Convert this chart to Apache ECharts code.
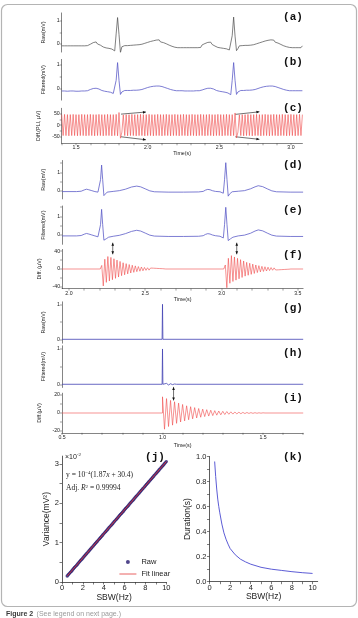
<!DOCTYPE html>
<html>
<head>
<meta charset="utf-8">
<script src="https://cdn.jsdelivr.net/npm/echarts@6/dist/echarts.min.js"></script>
<style>
html, body { margin: 0; padding: 0; background: #fff; }
#fig { width: 358px; height: 618px; }
</style>
</head>
<body>
<div id="fig"></div>
<script>
// Sampled traces: one value every DT seconds from the stated start time.
const DT = 0.01;

// (a) raw ECG with mains ripple, (b) filtered, (c) PLI difference — 1.40 s .. 3.08 s
const acT0 = 1.40;
const rawA = [
  -0.08,-0.16,-0.08,-0.16,-0.08,-0.16,-0.08,-0.16,-0.08,-0.16,-0.08,-0.16,-0.08,-0.16,-0.08,-0.16,-0.08,-0.16,
  -0.07,-0.13,-0.01,-0.05,0.06,0.00,0.09,0.00,0.06,-0.05,-0.01,-0.13,-0.07,
  -0.17,-0.10,-0.19,-0.12,-0.22,-0.17,
  -0.30,0.44,1.15,0.42,-0.37,-0.12,
  -0.16,-0.07,-0.15,-0.07,-0.14,-0.06,-0.14,-0.05,-0.13,-0.04,-0.12,-0.03,-0.10,
  -0.01,-0.07,0.03,-0.03,0.07,0.01,0.11,0.05,0.14,0.08,0.17,0.10,0.18,0.09,0.16,0.06,0.12,0.01,0.06,-0.05,0.00,-0.10,-0.04,-0.14,-0.07,
  -0.16,-0.08,-0.16,-0.08,-0.16,-0.08,-0.16,-0.08,-0.16,-0.08,-0.16,-0.08,-0.16,-0.08,-0.16,-0.08,
  -0.15,-0.04,-0.09,0.02,-0.03,0.07,0.01,0.08,-0.02,0.03,-0.09,-0.05,-0.15,
  -0.08,-0.17,-0.10,-0.19,-0.12,-0.21,-0.15,-0.26,
  -0.23,0.36,1.17,0.34,-0.29,-0.20,
  -0.08,-0.15,-0.07,-0.15,-0.06,-0.14,-0.06,-0.13,-0.05,-0.12,-0.03,
  -0.09,0.01,-0.05,0.05,-0.01,0.09,0.03,0.13,0.06,0.16,0.09,0.18,0.10,0.17,0.08,0.14,0.04,0.09,-0.02,0.03,-0.08,-0.02,-0.12,-0.06,-0.15,
  -0.08,-0.16,-0.08,-0.16,-0.08,-0.16,-0.08,-0.16,-0.08
];
const filtB = [
  -0.08,-0.08,-0.08,-0.09,-0.09,-0.09,-0.08,-0.08,-0.08,-0.08,-0.09,-0.09,-0.09,-0.08,-0.08,-0.08,-0.08,-0.08,
  -0.07,-0.05,-0.02,0.00,0.02,0.03,0.03,0.02,0.00,-0.03,-0.06,-0.08,-0.09,
  -0.10,-0.11,-0.12,-0.13,-0.15,-0.18,
  -0.22,0.35,1.07,0.35,-0.22,-0.12,
  -0.07,-0.06,-0.06,-0.06,-0.06,-0.06,-0.05,-0.05,-0.05,-0.05,-0.04,-0.04,-0.03,
  -0.02,0.00,0.02,0.04,0.06,0.08,0.09,0.10,0.11,0.12,0.12,0.12,0.12,0.11,0.10,0.08,0.06,0.04,0.02,0.00,-0.02,-0.04,-0.05,-0.06,-0.07,
  -0.07,-0.07,-0.07,-0.07,-0.08,-0.08,-0.08,-0.08,-0.08,-0.08,-0.08,-0.08,-0.07,-0.07,-0.07,-0.07,
  -0.06,-0.04,-0.02,0.00,0.02,0.03,0.04,0.03,0.02,0.00,-0.03,-0.06,-0.08,
  -0.09,-0.10,-0.11,-0.12,-0.13,-0.14,-0.16,-0.19,
  -0.23,0.35,1.07,0.35,-0.22,-0.12,
  -0.07,-0.06,-0.06,-0.06,-0.06,-0.05,-0.05,-0.05,-0.04,-0.04,-0.03,
  -0.02,0.00,0.02,0.04,0.06,0.08,0.09,0.10,0.11,0.12,0.12,0.12,0.12,0.11,0.10,0.08,0.06,0.04,0.02,0.00,-0.02,-0.04,-0.05,-0.06,-0.07,
  -0.07,-0.07,-0.07,-0.07,-0.07,-0.07,-0.07,-0.07,-0.07
];
const pliC = [
  45,-45,46,-45,45,-46,45,-45,46,-45,
  45,-46,45,-45,46,-45,45,-46,45,-45,
  46,-45,45,-46,45,-45,46,-45,45,-46,
  45,-45,46,-45,45,-46,45,-45,46,-46,
  54,-56,-30,44,-45,45,-46,45,-45,46,
  -45,45,-46,45,-45,46,-45,45,-46,45,
  -45,46,-45,45,-46,45,-45,46,-45,45,
  -46,45,-45,46,-45,45,-46,45,-45,46,
  -45,45,-46,45,-45,46,-45,45,-46,45,
  -45,46,-45,45,-46,45,-45,46,-45,45,
  -46,45,-45,46,-45,45,-46,45,-45,46,
  -45,45,-46,45,-45,46,-45,45,-46,45,
  -45,52,-55,-30,44,-45,45,-46,45,-45,
  46,-45,45,-46,45,-45,46,-45,45,-46,
  45,-45,46,-45,45,-46,45,-45,46,-45,
  45,-46,45,-45,46,-45,45,-46,45,-45,
  46,-45,45,-46,45,-45,46,-45,45
];

// (d) raw and (e) filtered clean ECG, [time s, mV]
const rawD = [
  [1.955,-0.05],[2.05,-0.05],[2.08,-0.03],[2.10,0.04],[2.115,0.08],[2.13,0.05],[2.15,0.0],[2.17,-0.05],
  [2.19,-0.08],[2.200,-0.15],[2.207,0.6],[2.214,1.40],[2.221,0.6],[2.229,-0.27],[2.238,-0.2],[2.25,-0.08],
  [2.29,-0.04],[2.33,0.0],[2.37,0.08],[2.41,0.2],[2.444,0.25],[2.47,0.21],[2.50,0.1],[2.53,-0.01],
  [2.56,-0.06],[2.65,-0.08],[2.75,-0.08],[2.85,-0.07],[2.88,-0.04],[2.895,0.03],[2.91,0.07],[2.925,0.05],
  [2.94,0.0],[2.96,-0.04],[2.99,-0.06],[3.012,-0.14],[3.020,0.6],[3.028,1.53],[3.036,0.6],[3.044,-0.3],
  [3.053,-0.18],[3.07,-0.06],[3.11,-0.03],[3.15,0.0],[3.19,0.1],[3.22,0.21],[3.241,0.27],[3.27,0.22],
  [3.30,0.1],[3.33,-0.01],[3.36,-0.06],[3.45,-0.08],[3.535,-0.08]
];
const filtE = [
  [1.955,-0.05],[2.05,-0.05],[2.08,-0.03],[2.10,0.04],[2.115,0.08],[2.13,0.05],[2.15,0.0],[2.17,-0.05],
  [2.19,-0.1],[2.200,-0.17],[2.207,0.55],[2.214,1.37],[2.221,0.55],[2.229,-0.28],[2.236,-0.3],[2.245,-0.2],
  [2.26,-0.12],[2.29,-0.07],[2.33,-0.02],[2.37,0.07],[2.41,0.19],[2.444,0.25],[2.47,0.21],[2.50,0.1],
  [2.53,-0.01],[2.56,-0.06],[2.65,-0.08],[2.75,-0.08],[2.85,-0.07],[2.88,-0.04],[2.895,0.03],[2.91,0.07],
  [2.925,0.05],[2.94,0.0],[2.96,-0.04],[2.99,-0.07],[3.012,-0.16],[3.020,0.55],[3.028,1.48],[3.036,0.55],
  [3.044,-0.3],[3.05,-0.31],[3.06,-0.2],[3.075,-0.12],[3.11,-0.05],[3.15,-0.01],[3.19,0.09],[3.22,0.21],
  [3.241,0.27],[3.27,0.22],[3.30,0.1],[3.33,-0.01],[3.36,-0.06],[3.45,-0.08],[3.535,-0.08]
];

// (f) difference: two filter transients (µV), flat zero elsewhere
const fStart = [1.955, 0];
const fEnd = [3.535, 0];
const fBurst1T0 = 2.205;
const fBurst1 = [0, 8, -38, 22, -30, 28, -27, 26, -24, 23, -21, 20, -18, 17, -15, 14, -13, 12, -11, 10,
  -9, 8.5, -7.5, 7, -6, 5.5, -5, 4.5, -4, 3.5, -3, 2.8, -2.5, 2.2, -2, 1.8, -1.6, 1.4, -1.2, 1, -0.9, 0.7, -0.5, 0];
const fBurst2T0 = 3.015;
const fBurst2 = [0, 9, -42, 24, -32, 30, -28, 27, -25, 24, -22, 21, -19, 18, -16, 15, -14, 13, -12, 11,
  -10, 9, -8, 7.5, -6.5, 6, -5.5, 5, -4.5, 4, -3.5, 3.2, -2.8, 2.5, -2.2, 2, -1.8, 1.6, -1.4, 1.2, -1, 0.8, -0.6, 0.4, 0];

// (g) impulse, (h) filtered impulse, [time s, mV]
const impG = [[0.5,0],[0.998,0],[1.0,1],[1.002,0],[1.7,0]];
const impH = [[0.5,0],[0.998,0],[1.0,1],[1.002,0],[1.01,-0.03],[1.02,0.025],[1.03,-0.02],[1.04,0.015],
  [1.05,-0.01],[1.06,0.008],[1.07,0],[1.7,0]];

// (i) impulse-response difference (µV), from 1.00 s
const iLead = [[0.5,0],[1.0,0]];
const iTail = [1.7, 0];
const iT0 = 1.00;
const iDiff = [18,-18,16,-15,14,-13.5,12.5,-11.5,11,-10,9.5,-8.8,8,-7.5,7,-6.5,6,-5.5,5,-4.7,4.3,-4,3.7,-3.4,
  3.1,-2.9,2.6,-2.4,2.2,-2,1.9,-1.7,1.6,-1.4,1.3,-1.2,1.1,-1,0.9,-0.8,0.7,-0.65,0.6,-0.5,0.45,-0.4,0.35,-0.3,0.25,-0.2,0.2,0];

// (j) variance vs stop-band width (×10^-2 mV²)
const sbwJ = [0.5,0.6,0.7,0.8,0.9,1.0,1.1,1.2,1.3,1.4,1.5,1.6,1.7,1.8,1.9,2.0,2.1,2.2,2.3,2.4,2.5,2.6,2.7,2.8,2.9,
  3.0,3.1,3.2,3.3,3.4,3.5,3.6,3.7,3.8,3.9,4.0,4.1,4.2,4.3,4.4,4.5,4.6,4.7,4.8,4.9,5.0,5.1,5.2,5.3,5.4,5.5,5.6,5.7,
  5.8,5.9,6.0,6.1,6.2,6.3,6.4,6.5,6.6,6.7,6.8,6.9,7.0,7.1,7.2,7.3,7.4,7.5,7.6,7.7,7.8,7.9,8.0,8.1,8.2,8.3,8.4,8.5,
  8.6,8.7,8.8,8.9,9.0,9.1,9.2,9.3,9.4,9.5,9.6,9.7,9.8,9.9,10.0];
const varJ = [0.153,0.184,0.214,0.245,0.275,0.306,0.337,0.367,0.398,0.428,0.459,0.49,0.52,0.551,0.581,0.612,0.643,
  0.673,0.704,0.734,0.765,0.796,0.826,0.857,0.887,0.918,0.949,0.979,1.01,1.04,1.071,1.102,1.132,1.163,1.193,1.224,
  1.255,1.285,1.316,1.346,1.377,1.408,1.438,1.469,1.499,1.53,1.561,1.591,1.622,1.652,1.683,1.714,1.744,1.775,1.805,
  1.836,1.867,1.897,1.928,1.958,1.989,2.02,2.05,2.081,2.111,2.142,2.173,2.203,2.234,2.264,2.295,2.326,2.356,2.387,
  2.417,2.448,2.479,2.509,2.54,2.57,2.601,2.632,2.662,2.693,2.723,2.754,2.785,2.815,2.846,2.876,2.907,2.938,2.968,
  2.999,3.029,3.06];
const fitJx = [0.5, 10];
const fitJy = [0.153, 3.06];

// (k) transient duration vs stop-band width
const sbwK = [0.5,0.6,0.7,0.8,0.9,1.0,1.2,1.4,1.6,1.8,2.0,2.5,3.0,3.5,4.0,5.0,6.0,7.0,8.0,9.0,10.0];
const durK = [0.96,0.84,0.74,0.66,0.60,0.55,0.46,0.39,0.34,0.30,0.265,0.215,0.18,0.158,0.14,0.115,0.10,0.09,0.08,0.072,0.066];

const sampled = (t0, vals) => vals.map((v, i) => [+(t0 + i * DT).toFixed(4), v]);
const zip = (xs, ys) => xs.map((x, i) => [x, ys[i]]);
const steps = (a, b, s) => { const o = []; for (let k = 0; a + k * s <= b + 1e-9; k++) o.push(+(a + k * s).toFixed(4)); return o; };

const SANS = '"Liberation Sans", Arial, sans-serif';
const SERIF = '"Liberation Serif", "Times New Roman", serif';
const AX = '#333';
const BLUE = '#5c5cc8';
const DBLUE = '#4242b4';
const RED = '#f04a4a';

const grids = [
  { left: 61.7, top: 12.95, width: 240.7, height: 39.1 },   // a
  { left: 61.7, top: 59.4, width: 240.7, height: 40.7 },    // b
  { left: 61.7, top: 108.3, width: 240.7, height: 35 },     // c
  { left: 62.1, top: 160.5, width: 241, height: 38.4 },     // d
  { left: 62.1, top: 206, width: 241, height: 38.3 },       // e
  { left: 62.1, top: 249.4, width: 241, height: 39.2 },     // f
  { left: 62, top: 301.85, width: 241.2, height: 41.3 },    // g
  { left: 62, top: 345.8, width: 241.2, height: 41.65 },    // h
  { left: 62, top: 393.2, width: 241.2, height: 39.6 },     // i
  { left: 62, top: 456.1, width: 104.3, height: 125.9 },    // j
  { left: 209.5, top: 456.5, width: 108.2, height: 125.2 }  // k
];

function xHidden(g, min, max) {
  return { gridIndex: g, type: 'value', min, max, show: false };
}
function axisCfg(g, min, max, o) {
  return {
    gridIndex: g, type: 'value', min, max,
    name: o.name, nameLocation: 'middle', nameGap: o.gap,
    nameTextStyle: { fontSize: o.nameSize, color: '#222', fontFamily: SANS },
    axisLine: { show: true, onZero: false, lineStyle: { color: AX, width: o.lw } },
    axisTick: { show: true, length: o.tick, customValues: o.ticks, lineStyle: { color: AX, width: o.lw * 0.8 } },
    axisLabel: { customValues: o.labels, fontSize: o.fs, color: '#222', margin: o.margin, fontFamily: SANS,
      formatter: o.fmt || (v => String(v)) },
    splitLine: { show: false }
  };
}
const small = { nameSize: 5.3, lw: 0.6, tick: 2, fs: 5.2, margin: 2 };
const yS = (g, min, max, name, labels, ticks, gap) =>
  axisCfg(g, min, max, Object.assign({}, small, { name, labels, ticks, gap: gap || 9.5 }));
const xT = (g, min, max, labels, gap) =>
  axisCfg(g, min, max, Object.assign({}, small, { name: 'Time(s)', labels, gap,
    ticks: steps(Math.ceil(min * 10) / 10, max, 0.1), fmt: v => v.toFixed(1) }));

const xAxes = [
  xHidden(0, 1.40, 3.08), xHidden(1, 1.40, 3.08), xT(2, 1.40, 3.08, [1.5, 2.0, 2.5, 3.0], 7.5),
  xHidden(3, 1.955, 3.535), xHidden(4, 1.955, 3.535), xT(5, 1.955, 3.535, [2.0, 2.5, 3.0, 3.5], 8.5),
  xHidden(6, 0.5, 1.7), xHidden(7, 0.5, 1.7), xT(8, 0.5, 1.7, [0.5, 1.0, 1.5], 10),
  axisCfg(9, 0, 10, { name: 'SBW(Hz)', gap: 7, nameSize: 8.5, lw: 0.8, tick: 2.5, fs: 7.5, margin: 2,
    ticks: steps(0, 10, 1), labels: [0, 2, 4, 6, 8, 10] }),
  axisCfg(10, 0, 10.5, { name: 'SBW(Hz)', gap: 7, nameSize: 8.5, lw: 0.8, tick: 2.5, fs: 7.5, margin: 2,
    ticks: steps(0, 10, 1), labels: [0, 2, 4, 6, 8, 10] })
];
const yAxes = [
  yS(0, -0.35, 1.35, 'Raw(mV)', [0, 1], [0, 0.5, 1]),
  yS(1, -0.45, 1.2, 'Filtered(mV)', [0, 1], [0, 0.5, 1]),
  yS(2, -78, 72, 'Diff.(PLI, μV)', [-50, 0, 50], [-50, -25, 0, 25, 50], 11),
  yS(3, -0.45, 1.65, 'Raw(mV)', [0, 1], [0, 0.5, 1, 1.5]),
  yS(4, -0.5, 1.55, 'Filtered(mV)', [0, 1], [0, 0.5, 1, 1.5]),
  yS(5, -44, 44, 'Diff. (μV)', [-40, 0, 40], [-40, -20, 0, 20, 40]),
  yS(6, -0.11, 1.07, 'Raw(mV)', [0, 1], [0, 0.5, 1]),
  yS(7, -0.09, 1.09, 'Filtered(mV)', [0, 1], [0, 0.5, 1]),
  yS(8, -22, 22, 'Diff.(μV)', [-20, 0, 20], [-20, -10, 0, 10, 20]),
  axisCfg(9, 0, 3.2, { name: 'Variance(mV²)', gap: 9, nameSize: 8.5, lw: 0.8, tick: 2.5, fs: 7.5, margin: 3,
    ticks: steps(0, 3, 0.5), labels: [0, 1, 2, 3] }),
  axisCfg(10, 0, 1, { name: 'Duration(s)', gap: 16, nameSize: 8.5, lw: 0.8, tick: 2.5, fs: 7.5, margin: 3,
    ticks: steps(0, 1, 0.1), labels: [0, 0.2, 0.4, 0.6, 0.8, 1.0], fmt: v => v.toFixed(1) })
];

const trace = (g, data, color, w) => ({
  type: 'line', xAxisIndex: g, yAxisIndex: g, data, showSymbol: false, symbol: 'none',
  lineStyle: { color, width: w || 0.8 }, itemStyle: { color }, silent: true
});

const series = [
  trace(0, sampled(acT0, rawA), '#4a4a4a', 0.7),
  trace(1, sampled(acT0, filtB), BLUE),
  trace(2, sampled(acT0, pliC), RED, 0.6),
  trace(3, rawD, BLUE),
  trace(4, filtE, BLUE),
  trace(5, [fStart, ...sampled(fBurst1T0, fBurst1), ...sampled(fBurst2T0, fBurst2), fEnd], RED, 0.6),
  trace(6, impG, DBLUE),
  trace(7, impH, DBLUE),
  trace(8, [...iLead, ...sampled(iT0, iDiff), iTail], RED, 0.6),
  { name: 'Raw', type: 'scatter', xAxisIndex: 9, yAxisIndex: 9, data: zip(sbwJ, varJ),
    symbol: 'circle', symbolSize: 3.4, itemStyle: { color: '#24186e' }, z: 2 },
  { name: 'Fit linear', type: 'line', xAxisIndex: 9, yAxisIndex: 9, data: zip(fitJx, fitJy),
    showSymbol: false, symbol: 'none', lineStyle: { color: '#e23a3a', width: 0.9 }, itemStyle: { color: '#e23a3a' }, z: 3 },
  trace(10, zip(sbwK, durK), '#4a4ad0', 0.9)
];

const chart = echarts.init(document.getElementById('fig'), null, { renderer: 'canvas' });
chart.setOption({
  animation: false,
  backgroundColor: '#fff',
  grid: grids,
  xAxis: xAxes,
  yAxis: yAxes,
  legend: {
    data: [{ name: 'Raw', icon: 'circle' }, { name: 'Fit linear', itemStyle: { opacity: 0 } }],
    orient: 'vertical', left: 114, top: 553, itemWidth: 17, itemHeight: 4, itemGap: 4,
    lineStyle: { width: 0.8 },
    textStyle: { fontSize: 7.5, color: '#222', fontFamily: SANS },
    selectedMode: false
  },
  series
});

// ---- annotations: panel letters, arrows, (j) fit text, frame and caption ----
const px = (g, p) => chart.convertToPixel({ gridIndex: g }, p);
const INK = '#111';

function arrowHead(p, q, size) {
  const dx = q[0] - p[0], dy = q[1] - p[1];
  const L = Math.hypot(dx, dy) || 1;
  const ux = dx / L, uy = dy / L;
  const bx = q[0] - ux * size, by = q[1] - uy * size;
  const w = size * 0.45;
  return { type: 'polygon', silent: true, shape: { points: [q, [bx - uy * w, by + ux * w], [bx + uy * w, by - ux * w]] },
    style: { fill: INK } };
}
function arrow(g, from, to, both) {
  const p = px(g, from), q = px(g, to);
  const els = [{ type: 'line', silent: true, shape: { x1: p[0], y1: p[1], x2: q[0], y2: q[1] },
    style: { stroke: INK, lineWidth: 0.6 } }, arrowHead(p, q, 3)];
  if (both) els.push(arrowHead(q, p, 3));
  return els;
}

const pliArrows = [
  [[1.814, 47], [1.988, 56]], [[1.814, -50], [1.988, -63]],
  [[2.612, 46], [2.78, 57]], [[2.612, -50], [2.78, -61]]
];
const fMarks = [[[2.287, 59], [2.287, 33]], [[3.10, 59], [3.10, 33]]];
const iMarks = [[[1.055, 29], [1.055, 14]]];

const letters = [
  ['(a)', 293, 17], ['(b)', 293, 62], ['(c)', 293, 108], ['(d)', 293, 165], ['(e)', 293, 210],
  ['(f)', 293, 255], ['(g)', 293, 308], ['(h)', 293, 353], ['(i)', 293, 398], ['(j)', 155, 457], ['(k)', 293, 457]
];

const gfx = [
  { type: 'rect', silent: true, z: -10, shape: { x: 1.5, y: 4.5, width: 355, height: 602, r: 6 },
    style: { fill: 'none', stroke: '#b4b4b4', lineWidth: 1.2 } }
];
letters.forEach(([t, x, y]) => gfx.push({ type: 'text', silent: true, x, y,
  style: { text: t, font: 'bold 11px "Liberation Mono", "Courier New", monospace', fill: '#111',
    align: 'center', verticalAlign: 'middle' } }));
pliArrows.forEach(a => gfx.push(...arrow(2, a[0], a[1], false)));
fMarks.forEach(a => gfx.push(...arrow(5, a[0], a[1], true)));
iMarks.forEach(a => gfx.push(...arrow(8, a[0], a[1], true)));

const sup = { fontSize: 5, fontFamily: SERIF, fill: '#222', verticalAlign: 'top', lineHeight: 5 };
gfx.push({ type: 'text', silent: true, x: 65, y: 457,
  style: { text: '{a|×10}{s|-2}', verticalAlign: 'middle',
    rich: { a: { fontSize: 7, fontFamily: SANS, fill: '#222', lineHeight: 9 }, s: sup } } });
gfx.push({ type: 'text', silent: true, x: 66, y: 475,
  style: { text: '{a|y = 10}{s|−4}{a|(1.87}{i|x}{a| + 30.4)}', verticalAlign: 'middle',
    rich: { a: { fontSize: 7.5, fontFamily: SERIF, fill: '#222', lineHeight: 9 },
      i: { fontSize: 7.5, fontFamily: SERIF, fontStyle: 'italic', fill: '#222', lineHeight: 9 }, s: sup } } });
gfx.push({ type: 'text', silent: true, x: 66, y: 488.5,
  style: { text: '{a|Adj. }{i|R}{s|2}{a| = 0.99994}', verticalAlign: 'middle',
    rich: { a: { fontSize: 7.5, fontFamily: SERIF, fill: '#222', lineHeight: 9 },
      i: { fontSize: 7.5, fontFamily: SERIF, fontStyle: 'italic', fill: '#222', lineHeight: 9 }, s: sup } } });

gfx.push({ type: 'text', silent: true, x: 6, y: 614,
  style: { text: '{b|Figure 2} {g|(See legend on next page.)}', verticalAlign: 'middle',
    rich: { b: { fontSize: 7, fontWeight: 'bold', fontFamily: SANS, fill: '#3a3a3a' },
      g: { fontSize: 7, fontFamily: SANS, fill: '#9a9a9a' } } } });

chart.setOption({ graphic: gfx });
</script>
</body>
</html>
